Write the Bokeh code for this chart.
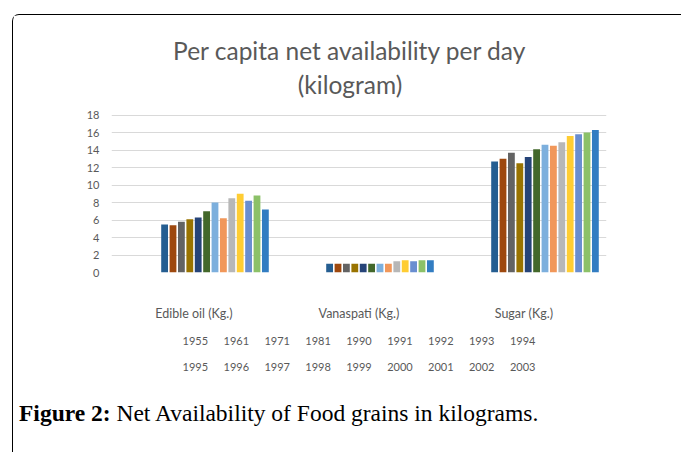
import math
from bokeh.plotting import figure
from bokeh.models import (ColumnDataSource, FactorRange, Range1d, Div, FixedTicker,
                          CategoricalAxis, Label)
from bokeh.transform import dodge
from bokeh.layouts import column
from bokeh.embed import file_html
from bokeh.resources import INLINE

NA = float("nan")

categories = ["Edible oil (Kg.)", "Vanaspati (Kg.)", "Sugar (Kg.)"]
years = ["1955", "1961", "1971", "1981", "1990", "1991", "1992", "1993", "1994",
         "1995", "1996", "1997", "1998", "1999", "2000", "2001", "2002", "2003"]
edible_oil = [NA, NA, NA, NA, NA, 5.5, 5.4, 5.8, 6.1, 6.3, 7.0, 8.0, 6.2, 8.5, 9.0, 8.2, 8.8, 7.2]
vanaspati = [NA, NA, NA, NA, NA, 1.0, 1.0, 1.0, 1.0, 1.0, 1.0, 1.0, 1.0, 1.3, 1.4, 1.3, 1.4, 1.4]
sugar = [NA, NA, NA, NA, NA, 12.7, 13.0, 13.7, 12.5, 13.2, 14.1, 14.6, 14.5, 14.9, 15.6, 15.8, 16.0, 16.3]
colors = ["#5B9BD5", "#ED7D31", "#A5A5A5", "#FFC000", "#4472C4",
          "#255E91", "#9E480E", "#636363", "#997300", "#264478", "#43682B",
          "#7CAFDD", "#F1975A", "#B7B7B7", "#FFCD33", "#698ED0", "#8CC168", "#327DC2"]
y_ticks = [0, 2, 4, 6, 8, 10, 12, 14, 16, 18]
title_lines = ["Per capita net availability per day", "(kilogram)"]

FONT = "Lato"
GRAY = "#595959"
W, H = 666, 370

# the frame is extended upward (room for the title); ticks and grid stop at 18
p = figure(x_range=FactorRange(*categories), y_range=Range1d(0, 28.25),
           width=W, height=H, output_backend="svg", toolbar_location=None,
           title=None, min_border_left=98, min_border_right=73,
           min_border_top=10, min_border_bottom=113)
p.outline_line_color = None
p.background_fill_color = "white"
p.border_fill_color = "white"

n = len(years)
pitch = 0.0509
bw = 0.0412
for i in range(n):
    vals = [edible_oil[i], vanaspati[i], sugar[i]]
    if all(math.isnan(v) for v in vals):
        continue
    src = ColumnDataSource(dict(cat=categories, top=vals))
    p.vbar(x=dodge("cat", (i - (n - 1) / 2) * pitch, range=p.x_range), top="top",
           width=bw, bottom=0, source=src, fill_color=colors[i], line_color=None)

p.xgrid.grid_line_color = None
p.ygrid.grid_line_color = "#D9D9D9"
p.ygrid.grid_line_width = 1
p.ygrid.ticker = FixedTicker(ticks=y_ticks[1:])
p.yaxis.ticker = FixedTicker(ticks=y_ticks)

# legend rows (text only, as in the reference) as extra categorical axes
half = len(years) // 2
p.extra_x_ranges = {
    "leg1": FactorRange(*years[:half], range_padding=1.55, range_padding_units="absolute"),
    "leg2": FactorRange(*years[half:], range_padding=1.55, range_padding_units="absolute"),
}
leg_axes = [CategoricalAxis(x_range_name="leg1"), CategoricalAxis(x_range_name="leg2")]
for ax in leg_axes:
    p.add_layout(ax, "below")

for ax in [p.xaxis[0], p.yaxis[0]] + leg_axes:
    ax.axis_line_color = None
    ax.major_tick_line_color = None
    ax.minor_tick_line_color = None
    ax.major_tick_out = 0
    ax.major_tick_in = 0
    ax.major_label_text_font = FONT
    ax.major_label_text_font_size = "11px"
    ax.major_label_text_color = GRAY
p.xaxis[0].major_label_text_font_size = "12.5px"
p.yaxis.major_label_standoff = 12
p.xaxis[0].major_label_standoff = 33
leg_axes[0].major_label_standoff = 13
leg_axes[1].major_label_standoff = 15

# two-line chart title (screen units relative to the plot frame)
for k, t in enumerate(title_lines):
    p.add_layout(Label(x=238.5, y=222 - 34 * k, x_units="screen", y_units="screen", text=t,
                       text_align="center", text_baseline="middle", text_font=FONT,
                       text_font_size="24.5px", text_color=GRAY))

cap = Div(text="<b>Figure 2:</b> Net Availability of Food grains in kilograms.",
          width=W, height=55, margin=(12, 0, 0, 6),
          styles={"font-family": "Liberation Serif", "font-size": "23.5px", "color": "black"})

layout = column(p, cap, margin=(14, 0, 0, 12),
                styles={"border-top": "1.5px solid black", "border-left": "1.5px solid black",
                        "border-top-left-radius": "7px", "background": "white"})

open("out.html", "w").write(file_html(layout, INLINE))
